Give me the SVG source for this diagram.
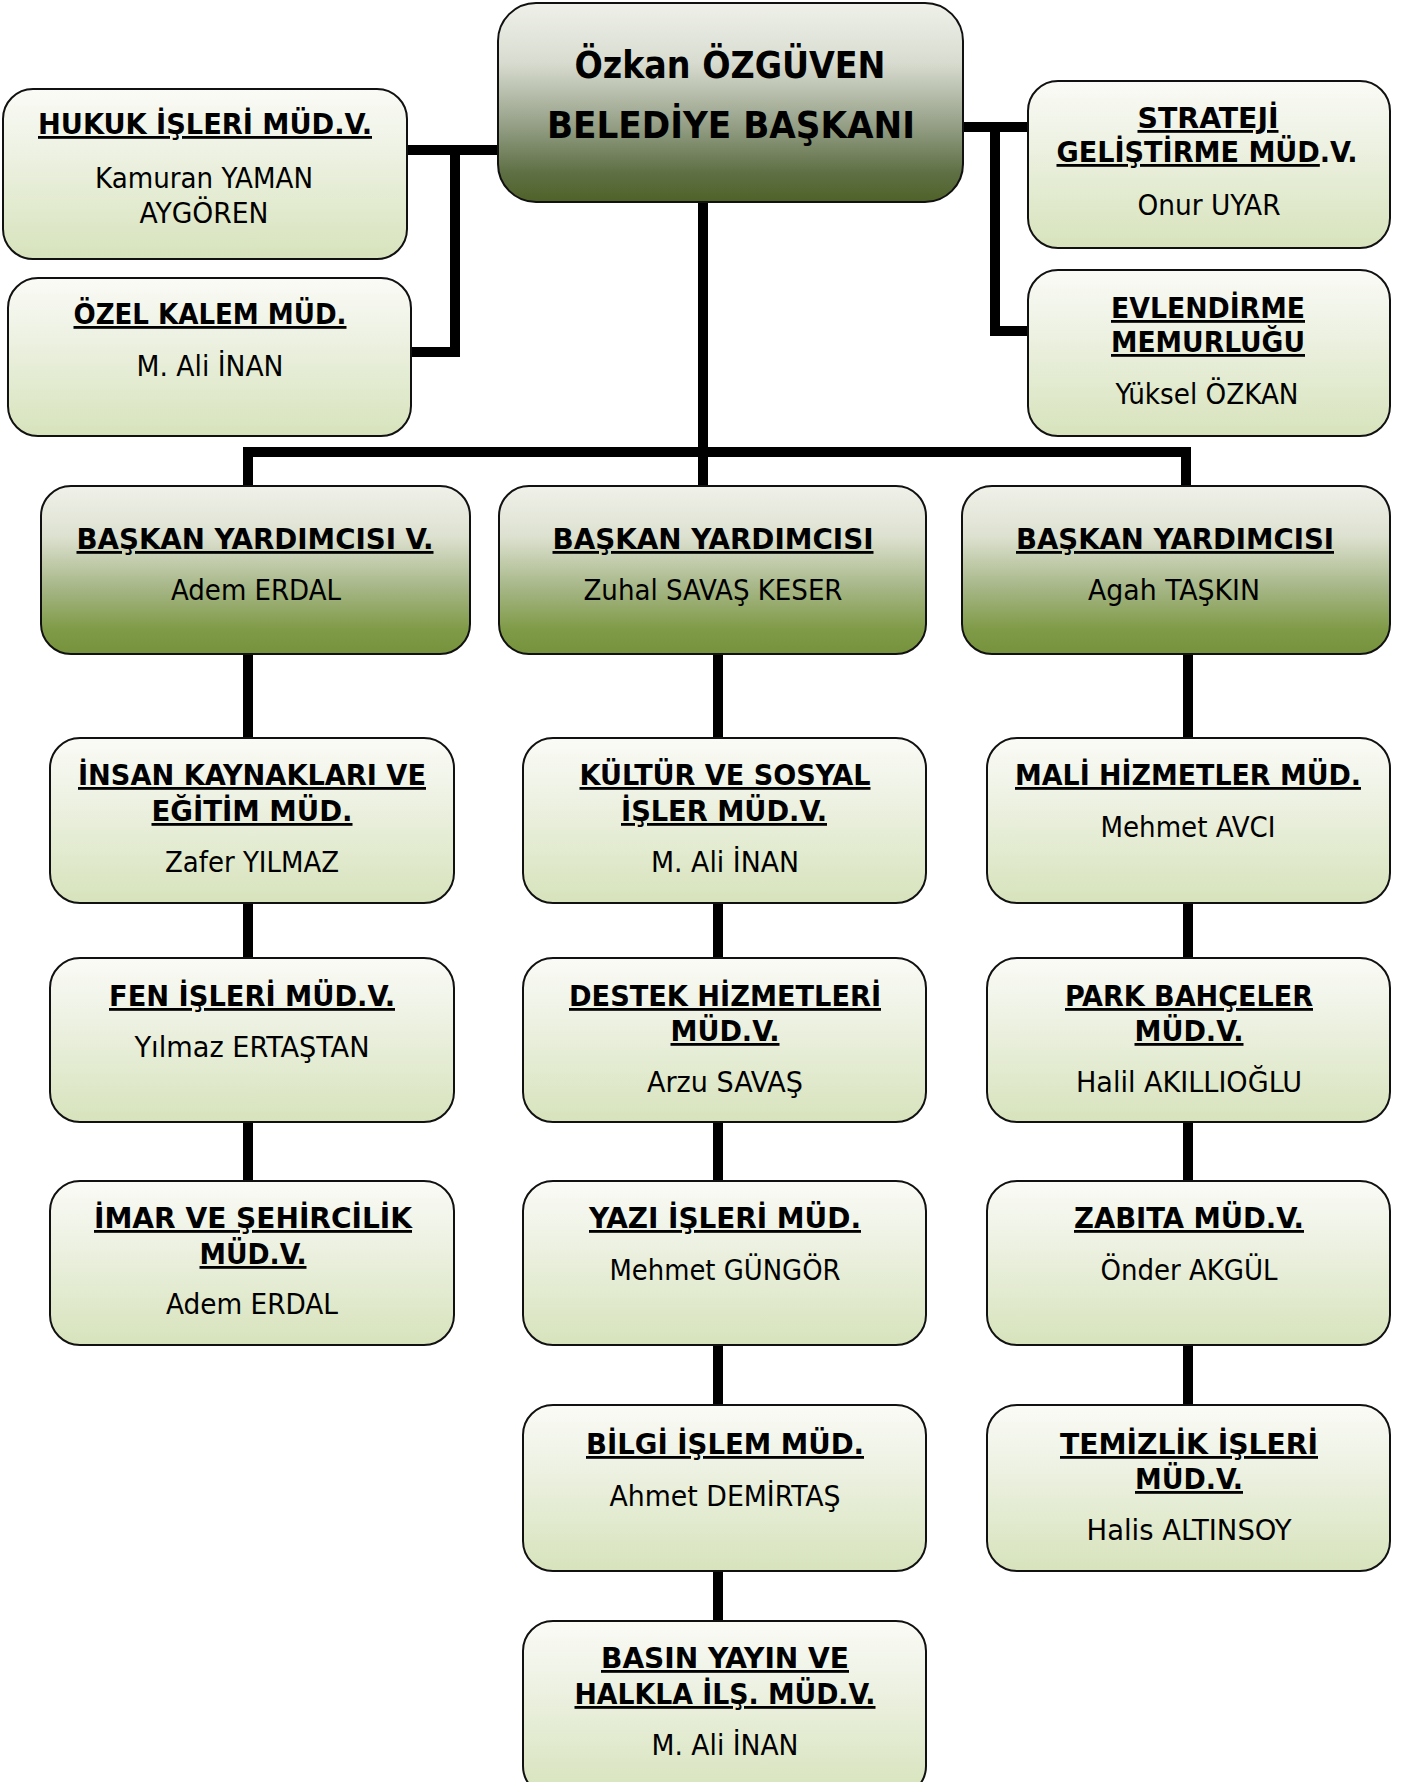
<svg xmlns="http://www.w3.org/2000/svg" width="1403" height="1782" viewBox="0 0 1403 1782">
<defs>
<linearGradient id="gLight" x1="0" y1="0" x2="0" y2="1">
<stop offset="0" stop-color="#fafbf6"/>
<stop offset="0.35" stop-color="#eef2e4"/>
<stop offset="1" stop-color="#d7e3bc"/>
</linearGradient>
<linearGradient id="gVP" x1="0" y1="0" x2="0" y2="1">
<stop offset="0" stop-color="#f0f1ea"/>
<stop offset="0.3" stop-color="#dde1d0"/>
<stop offset="0.6" stop-color="#a7b788"/>
<stop offset="0.85" stop-color="#809b48"/>
<stop offset="1" stop-color="#76923c"/>
</linearGradient>
<linearGradient id="gMain" x1="0" y1="0" x2="0" y2="1">
<stop offset="0" stop-color="#eff1ea"/>
<stop offset="0.3" stop-color="#d8dcd0"/>
<stop offset="0.6" stop-color="#98a28a"/>
<stop offset="0.85" stop-color="#5f7045"/>
<stop offset="1" stop-color="#4f6228"/>
</linearGradient>
</defs>
<style>
.box{fill:url(#gLight);stroke:#111;stroke-width:2}
.vp{fill:url(#gVP);stroke:#111;stroke-width:2}
.main{fill:url(#gMain);stroke:#111;stroke-width:2}
.t,.tp{font-family:"DejaVu Sans","Liberation Sans",sans-serif;font-stretch:condensed;font-weight:bold;font-size:28px;text-anchor:middle;fill:#000}
.t{text-decoration:underline}
.u{text-decoration:underline}
.n{font-family:"DejaVu Sans","Liberation Sans",sans-serif;font-stretch:condensed;font-size:28px;text-anchor:middle;fill:#000}
.m{font-family:"DejaVu Sans","Liberation Sans",sans-serif;font-stretch:condensed;font-weight:bold;font-size:37px;text-anchor:middle;fill:#000}
.c{fill:none;stroke:#000;stroke-width:10;stroke-linejoin:miter;stroke-linecap:butt}
</style>
<rect width="1403" height="1782" fill="#fff"/>
<g id="connectors">
<path class="c" d="M498,150 H405 M455,150 V352 H409"/>
<path class="c" d="M961,127 H1030 M995,127 V331 H1030"/>
<path class="c" d="M703,200 V488 M248,488 V452 H1186 V488"/>
<path class="c" d="M248,652 V740 M718,652 V740 M1188,652 V740"/>
<path class="c" d="M248,901 V960 M248,1120 V1183"/>
<path class="c" d="M718,901 V960 M718,1120 V1183 M718,1343 V1407 M718,1569 V1623"/>
<path class="c" d="M1188,901 V960 M1188,1120 V1183 M1188,1343 V1407"/>
</g>
<g id="baskan">
<rect class="main" x="498" y="3" width="465" height="199" rx="38"/>
<text class="m" x="730" y="78" textLength="311" lengthAdjust="spacingAndGlyphs">Özkan ÖZGÜVEN</text>
<text class="m" x="731" y="138" textLength="368" lengthAdjust="spacingAndGlyphs">BELEDİYE BAŞKANI</text>
</g>
<g id="hukuk">
<rect class="box" x="3" y="89" width="404" height="170" rx="30"/>
<text class="t" x="205" y="134" textLength="334" lengthAdjust="spacingAndGlyphs">HUKUK İŞLERİ MÜD.V.</text>
<text class="n" x="204" y="188" textLength="218" lengthAdjust="spacingAndGlyphs">Kamuran YAMAN</text>
<text class="n" x="204" y="223" textLength="129" lengthAdjust="spacingAndGlyphs">AYGÖREN</text>
</g>
<g id="ozelkalem">
<rect class="box" x="8" y="278" width="403" height="158" rx="30"/>
<text class="t" x="210" y="324" textLength="273" lengthAdjust="spacingAndGlyphs">ÖZEL KALEM MÜD.</text>
<text class="n" x="210" y="376" textLength="147" lengthAdjust="spacingAndGlyphs">M. Ali İNAN</text>
</g>
<g id="strateji">
<rect class="box" x="1028" y="81" width="362" height="167" rx="30"/>
<text class="t" x="1208" y="128" textLength="141" lengthAdjust="spacingAndGlyphs">STRATEJİ</text>
<text class="tp" x="1207" y="162" textLength="301" lengthAdjust="spacingAndGlyphs"><tspan class="u">GELİŞTİRME MÜD</tspan>.V.</text>
<text class="n" x="1209" y="215" textLength="143" lengthAdjust="spacingAndGlyphs">Onur UYAR</text>
</g>
<g id="evlendirme">
<rect class="box" x="1028" y="270" width="362" height="166" rx="30"/>
<text class="t" x="1208" y="318" textLength="194" lengthAdjust="spacingAndGlyphs">EVLENDİRME</text>
<text class="t" x="1208" y="352" textLength="194" lengthAdjust="spacingAndGlyphs">MEMURLUĞU</text>
<text class="n" x="1207" y="404" textLength="183" lengthAdjust="spacingAndGlyphs">Yüksel ÖZKAN</text>
</g>
<g id="byv1">
<rect class="vp" x="41" y="486" width="429" height="168" rx="30"/>
<text class="t" x="255" y="549" textLength="357" lengthAdjust="spacingAndGlyphs">BAŞKAN YARDIMCISI V.</text>
<text class="n" x="256" y="600" textLength="170" lengthAdjust="spacingAndGlyphs">Adem ERDAL</text>
</g>
<g id="byv2">
<rect class="vp" x="499" y="486" width="427" height="168" rx="30"/>
<text class="t" x="713" y="549" textLength="321" lengthAdjust="spacingAndGlyphs">BAŞKAN YARDIMCISI</text>
<text class="n" x="713" y="600" textLength="259" lengthAdjust="spacingAndGlyphs">Zuhal SAVAŞ KESER</text>
</g>
<g id="byv3">
<rect class="vp" x="962" y="486" width="428" height="168" rx="30"/>
<text class="t" x="1175" y="549" textLength="318" lengthAdjust="spacingAndGlyphs">BAŞKAN YARDIMCISI</text>
<text class="n" x="1174" y="600" textLength="172" lengthAdjust="spacingAndGlyphs">Agah TAŞKIN</text>
</g>
<g id="insankaynaklari">
<rect class="box" x="50" y="738" width="404" height="165" rx="30"/>
<text class="t" x="252" y="785" textLength="348" lengthAdjust="spacingAndGlyphs">İNSAN KAYNAKLARI VE</text>
<text class="t" x="252" y="821" textLength="201" lengthAdjust="spacingAndGlyphs">EĞİTİM MÜD.</text>
<text class="n" x="252" y="872" textLength="174" lengthAdjust="spacingAndGlyphs">Zafer YILMAZ</text>
</g>
<g id="kultursosyal">
<rect class="box" x="523" y="738" width="403" height="165" rx="30"/>
<text class="t" x="725" y="785" textLength="291" lengthAdjust="spacingAndGlyphs">KÜLTÜR VE SOSYAL</text>
<text class="t" x="724" y="821" textLength="206" lengthAdjust="spacingAndGlyphs">İŞLER MÜD.V.</text>
<text class="n" x="725" y="872" textLength="148" lengthAdjust="spacingAndGlyphs">M. Ali İNAN</text>
</g>
<g id="malihizmetler">
<rect class="box" x="987" y="738" width="403" height="165" rx="30"/>
<text class="t" x="1188" y="785" textLength="346" lengthAdjust="spacingAndGlyphs">MALİ HİZMETLER MÜD.</text>
<text class="n" x="1188" y="837" textLength="175" lengthAdjust="spacingAndGlyphs">Mehmet AVCI</text>
</g>
<g id="fenisleri">
<rect class="box" x="50" y="958" width="404" height="164" rx="30"/>
<text class="t" x="252" y="1006" textLength="286" lengthAdjust="spacingAndGlyphs">FEN İŞLERİ MÜD.V.</text>
<text class="n" x="252" y="1057" textLength="235" lengthAdjust="spacingAndGlyphs">Yılmaz ERTAŞTAN</text>
</g>
<g id="destekhizmetleri">
<rect class="box" x="523" y="958" width="403" height="164" rx="30"/>
<text class="t" x="725" y="1006" textLength="312" lengthAdjust="spacingAndGlyphs">DESTEK HİZMETLERİ</text>
<text class="t" x="725" y="1041" textLength="109" lengthAdjust="spacingAndGlyphs">MÜD.V.</text>
<text class="n" x="725" y="1092" textLength="156" lengthAdjust="spacingAndGlyphs">Arzu SAVAŞ</text>
</g>
<g id="parkbahceler">
<rect class="box" x="987" y="958" width="403" height="164" rx="30"/>
<text class="t" x="1189" y="1006" textLength="248" lengthAdjust="spacingAndGlyphs">PARK BAHÇELER</text>
<text class="t" x="1189" y="1041" textLength="109" lengthAdjust="spacingAndGlyphs">MÜD.V.</text>
<text class="n" x="1189" y="1092" textLength="226" lengthAdjust="spacingAndGlyphs">Halil AKILLIOĞLU</text>
</g>
<g id="imarsehircilik">
<rect class="box" x="50" y="1181" width="404" height="164" rx="30"/>
<text class="t" x="253" y="1228" textLength="318" lengthAdjust="spacingAndGlyphs">İMAR VE ŞEHİRCİLİK</text>
<text class="t" x="253" y="1264" textLength="107" lengthAdjust="spacingAndGlyphs">MÜD.V.</text>
<text class="n" x="252" y="1314" textLength="172" lengthAdjust="spacingAndGlyphs">Adem ERDAL</text>
</g>
<g id="yaziisleri">
<rect class="box" x="523" y="1181" width="403" height="164" rx="30"/>
<text class="t" x="725" y="1228" textLength="272" lengthAdjust="spacingAndGlyphs">YAZI İŞLERİ MÜD.</text>
<text class="n" x="725" y="1280" textLength="231" lengthAdjust="spacingAndGlyphs">Mehmet GÜNGÖR</text>
</g>
<g id="zabita">
<rect class="box" x="987" y="1181" width="403" height="164" rx="30"/>
<text class="t" x="1189" y="1228" textLength="230" lengthAdjust="spacingAndGlyphs">ZABITA MÜD.V.</text>
<text class="n" x="1189" y="1280" textLength="177" lengthAdjust="spacingAndGlyphs">Önder AKGÜL</text>
</g>
<g id="bilgiislem">
<rect class="box" x="523" y="1405" width="403" height="166" rx="30"/>
<text class="t" x="725" y="1454" textLength="278" lengthAdjust="spacingAndGlyphs">BİLGİ İŞLEM MÜD.</text>
<text class="n" x="725" y="1506" textLength="231" lengthAdjust="spacingAndGlyphs">Ahmet DEMİRTAŞ</text>
</g>
<g id="temizlikisleri">
<rect class="box" x="987" y="1405" width="403" height="166" rx="30"/>
<text class="t" x="1189" y="1454" textLength="258" lengthAdjust="spacingAndGlyphs">TEMİZLİK İŞLERİ</text>
<text class="t" x="1189" y="1489" textLength="108" lengthAdjust="spacingAndGlyphs">MÜD.V.</text>
<text class="n" x="1189" y="1540" textLength="205" lengthAdjust="spacingAndGlyphs">Halis ALTINSOY</text>
</g>
<g id="basinyayin">
<rect class="box" x="523" y="1621" width="403" height="175" rx="30"/>
<text class="t" x="725" y="1668" textLength="248" lengthAdjust="spacingAndGlyphs">BASIN YAYIN VE</text>
<text class="t" x="725" y="1704" textLength="301" lengthAdjust="spacingAndGlyphs">HALKLA İLŞ. MÜD.V.</text>
<text class="n" x="725" y="1755" textLength="147" lengthAdjust="spacingAndGlyphs">M. Ali İNAN</text>
</g>
</svg>
